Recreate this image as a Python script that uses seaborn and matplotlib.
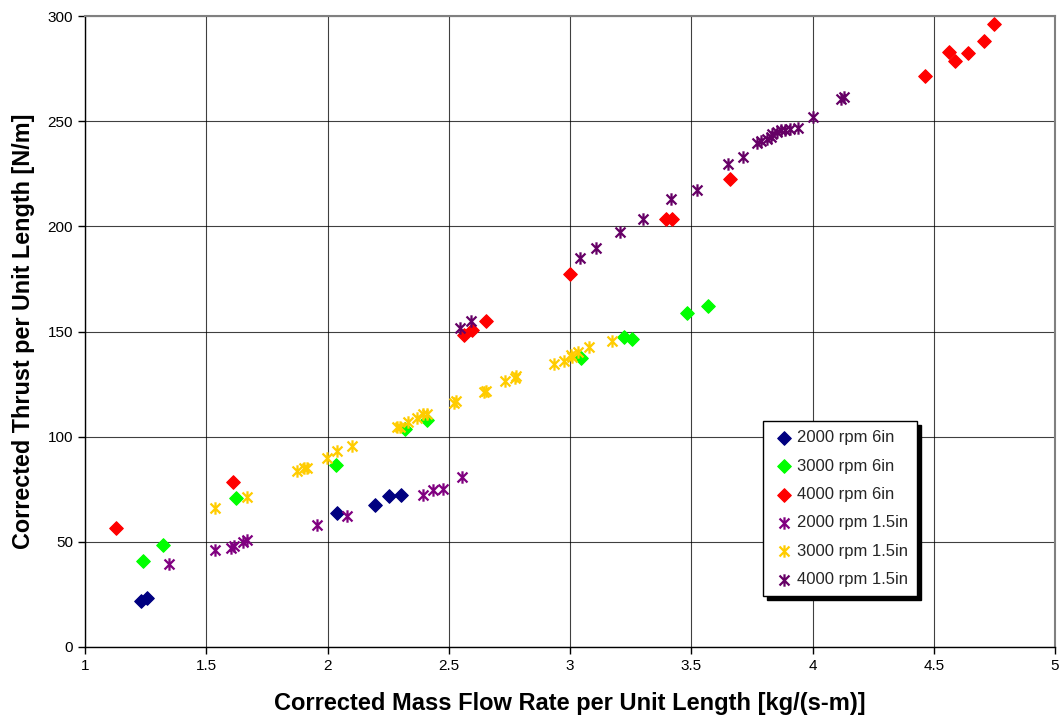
import numpy as np
import pandas as pd
import matplotlib
matplotlib.use("Agg")
import matplotlib.pyplot as plt
from matplotlib.path import Path
import seaborn as sns

# ---- data ----
x_2000_6 = [1.230, 1.257, 2.038, 2.197, 2.253, 2.304]
y_2000_6 = [22.0, 23.2, 63.6, 67.3, 71.6, 72.4]

x_3000_6 = [1.238, 1.323, 1.622, 2.035, 2.320, 2.409, 3.044, 3.224, 3.257, 3.484, 3.570]
y_3000_6 = [41.0, 48.5, 70.8, 86.5, 103.7, 108.0, 137.3, 147.3, 146.5, 159.0, 162.3]

x_4000_6 = [1.128, 1.609, 2.561, 2.597, 2.652, 3.000, 3.394, 3.422, 3.660,
            4.465, 4.564, 4.588, 4.640, 4.709, 4.750]
y_4000_6 = [56.6, 78.6, 148.2, 150.7, 155.0, 177.2, 203.4, 203.4, 222.5,
            271.5, 283.0, 278.6, 282.3, 288.3, 296.1]

x_2000_15 = [1.346, 1.537, 1.600, 1.615, 1.653, 1.669, 1.957, 2.079, 2.392, 2.434, 2.478, 2.553]
y_2000_15 = [39.5, 46.1, 47.3, 48.0, 50.1, 50.9, 58.0, 62.2, 72.3, 74.7, 75.1, 81.0]

x_3000_15 = [1.536, 1.667, 1.873, 1.903, 1.914, 1.997, 2.038, 2.102, 2.285, 2.299,
             2.333, 2.370, 2.392, 2.411, 2.522, 2.530, 2.645, 2.654, 2.732, 2.772,
             2.779, 2.935, 2.977, 3.004, 3.008, 3.034, 3.078, 3.175]
y_3000_15 = [66.0, 71.5, 83.7, 85.0, 85.0, 90.0, 93.2, 95.7, 104.8, 104.8,
             106.8, 109.0, 110.6, 111.0, 116.0, 117.0, 121.0, 121.5, 126.3, 128.0,
             128.8, 134.6, 136.1, 138.8, 138.0, 140.1, 142.5, 145.5]

x_4000_15 = [2.546, 2.590, 3.041, 3.106, 3.206, 3.302, 3.416, 3.522, 3.650, 3.715,
             3.770, 3.786, 3.811, 3.827, 3.835, 3.855, 3.869, 3.887, 3.907, 3.939,
             4.003, 4.116, 4.130]
y_4000_15 = [151.8, 155.0, 185.0, 189.6, 197.5, 203.5, 213.0, 217.3, 229.5, 233.2,
             239.5, 240.6, 241.6, 242.7, 243.8, 245.0, 245.8, 245.8, 246.3, 246.6,
             252.0, 260.4, 261.7]

labels = ["2000 rpm 6in", "3000 rpm 6in", "4000 rpm 6in",
          "2000 rpm 1.5in", "3000 rpm 1.5in", "4000 rpm 1.5in"]
colors = ["#000080", "#00FF00", "#FF0000", "#800080", "#FFCC00", "#660066"]

x_ticks = [1, 1.5, 2, 2.5, 3, 3.5, 4, 4.5, 5]
x_ticklabels = ["1", "1.5", "2", "2.5", "3", "3.5", "4", "4.5", "5"]
y_ticks = [0, 50, 100, 150, 200, 250, 300]

# ---- style ----
sns.set_theme(style="white")
plt.rcParams["font.family"] = ["Liberation Sans", "DejaVu Sans"]

star = Path([(-1, -1), (1, 1), (-1, 1), (1, -1), (0, -1.25), (0, 1.25)],
            [Path.MOVETO, Path.LINETO, Path.MOVETO, Path.LINETO, Path.MOVETO, Path.LINETO])

fig = plt.figure(figsize=(10.63, 7.22), dpi=100)
ax = fig.add_axes([85 / 1063, 1 - 647 / 722, 970 / 1063, 631 / 722])

series = [(x_2000_6, y_2000_6), (x_3000_6, y_3000_6), (x_4000_6, y_4000_6),
          (x_2000_15, y_2000_15), (x_3000_15, y_3000_15), (x_4000_15, y_4000_15)]

for i, ((xs, ys), lab, col) in enumerate(zip(series, labels, colors)):
    df = pd.DataFrame({"x": xs, "y": ys})
    if i < 3:
        sns.scatterplot(data=df, x="x", y="y", ax=ax, marker="D", s=48,
                        color=col, edgecolor=col, linewidth=0.8, label=lab, zorder=3)
    else:
        sns.scatterplot(data=df, x="x", y="y", ax=ax, marker=star, s=80,
                        color=col, edgecolor=col, linewidth=1.6, label=lab, zorder=3)

ax.set_xlim(1, 5)
ax.set_ylim(0, 300)
ax.set_xticks(x_ticks)
ax.set_xticklabels(x_ticklabels)
ax.set_yticks(y_ticks)
ax.grid(True, color="#000000", linewidth=0.8, alpha=0.75)
ax.set_axisbelow(True)
for side, sp in ax.spines.items():
    sp.set_color("#000000" if side in ("left", "bottom") else "#808080")
    sp.set_linewidth(1.0 if side in ("left", "bottom") else 1.5)
ax.tick_params(axis="both", which="major", direction="out", length=5, width=1,
               color="black", labelsize=11, labelcolor="black", bottom=True, left=True)

ax.set_xlabel("Corrected Mass Flow Rate per Unit Length [kg/(s-m)]",
              fontsize=17, fontweight="bold", color="black", labelpad=14)
ax.set_ylabel("Corrected Thrust per Unit Length [N/m]",
              fontsize=16.8, fontweight="bold", color="black", labelpad=9)

leg = ax.legend(loc="upper left", bbox_to_anchor=(0.699, 0.358), borderaxespad=0,
                fontsize=12, frameon=True, fancybox=False, edgecolor="black", framealpha=1,
                shadow={"color": "black", "alpha": 1, "ox": 2.5, "oy": -2.5},
                handletextpad=0.1, labelspacing=0.8, borderpad=0.55,
                handlelength=1.4, markerscale=1.0)
leg.get_frame().set_linewidth(1.0)

fig.savefig("out.png", dpi=100)
